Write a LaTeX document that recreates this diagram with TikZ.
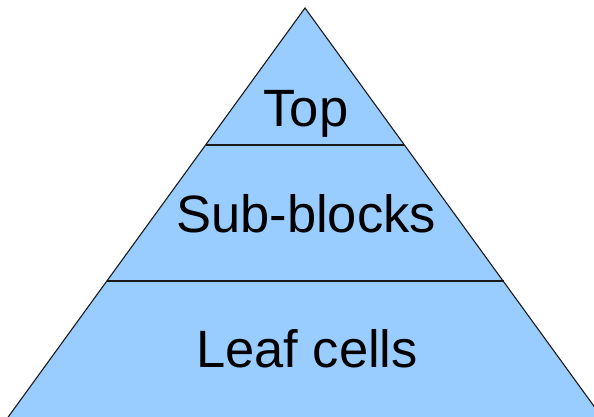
\documentclass[tikz,border=0pt]{standalone}
\usepackage{fontspec}
\setmainfont{Liberation Sans}
\definecolor{pyrfill}{HTML}{99CCFF}
\definecolor{pyrline}{HTML}{1A1A1A}
\begin{document}
\begin{tikzpicture}[x=1pt,y=-1pt,
  layer/.style={fill=pyrfill,draw=pyrline,line width=1.1pt,line join=miter},
  sep/.style={draw=pyrline,line width=1.1pt},
  lbl/.style={anchor=base,inner sep=0pt,font=\fontsize{52.5}{58}\selectfont}]
\useasboundingbox (0,0) rectangle (594,417);
\clip (0,0) rectangle (594,417);
\coordinate (apex) at (305,8);
\coordinate (bl) at (6,420);
\coordinate (br) at (604,420);
\coordinate (l1) at (206,145);
\coordinate (r1) at (404,145);
\coordinate (l2) at (107,281);
\coordinate (r2) at (504,281);
\filldraw[layer] (apex) -- (br) -- (bl) -- cycle;
\draw[sep] (l1) -- (r1);
\draw[sep] (l2) -- (r2);
\node[lbl] (top) at (306,127) {Top};
\node[lbl] (sub) at (306,232) {Sub-blocks};
\node[lbl] (leaf) at (307,367) {Leaf cells};
\end{tikzpicture}
\end{document}
